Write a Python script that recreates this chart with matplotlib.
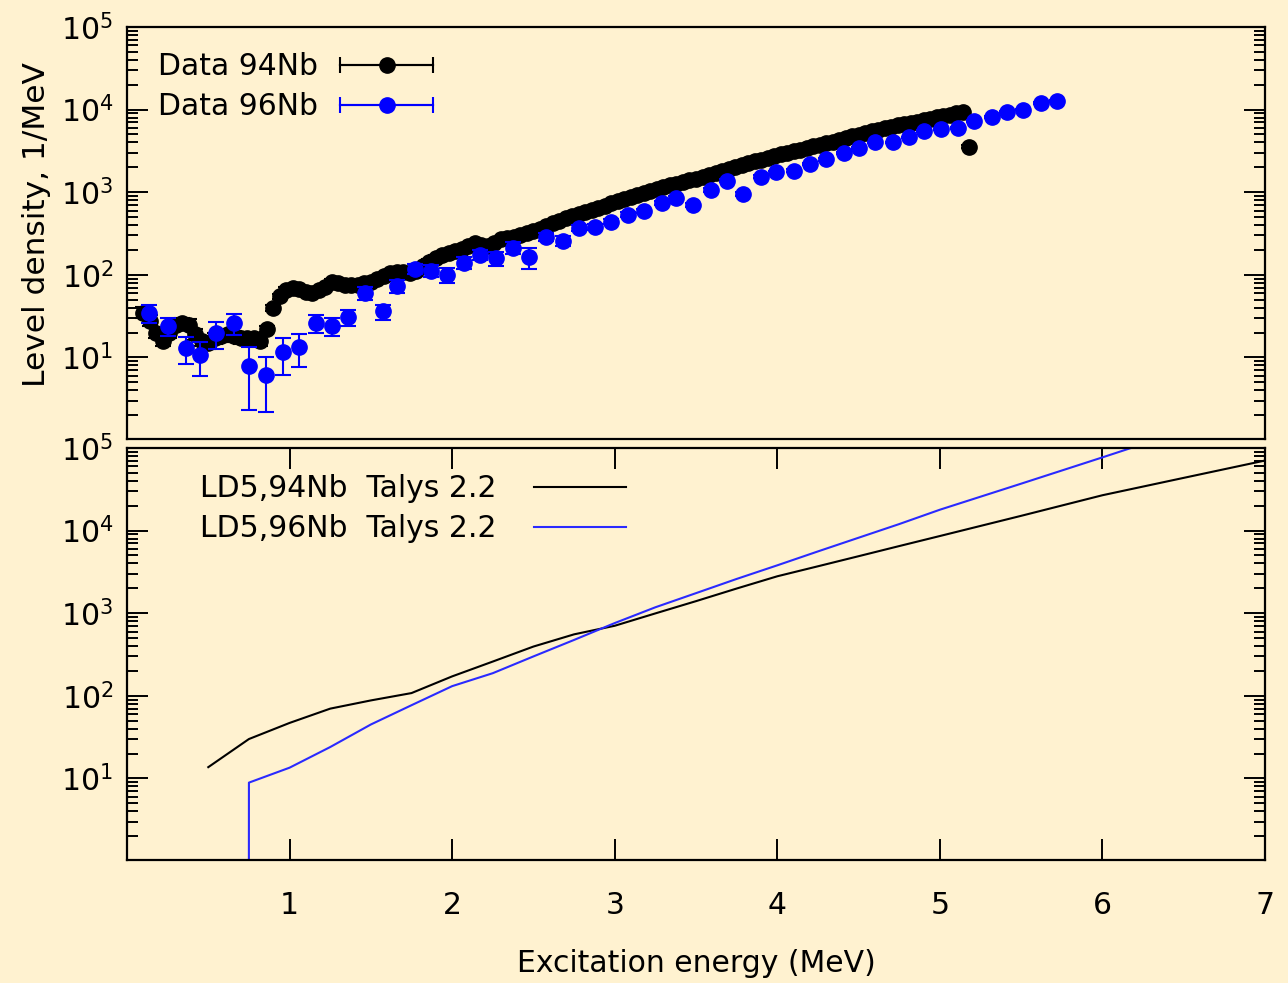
import numpy as np
import matplotlib
matplotlib.use("Agg")
import matplotlib.pyplot as plt
from matplotlib.lines import Line2D
from matplotlib.legend_handler import HandlerLine2D, HandlerTuple

# ---------------- data ----------------
# 94Nb experimental level density (MeV, 1/MeV)
e94 = [0.10, 0.14, 0.18, 0.22, 0.26, 0.30, 0.34, 0.38,
       0.42, 0.46, 0.50, 0.54, 0.58, 0.62, 0.66, 0.70,
       0.74, 0.78, 0.82, 0.86, 0.90, 0.94, 0.98, 1.02,
       1.06, 1.10, 1.14, 1.18, 1.22, 1.26, 1.30, 1.34,
       1.38, 1.42, 1.46, 1.50, 1.54, 1.58, 1.62, 1.66,
       1.70, 1.74, 1.78, 1.82, 1.86, 1.90, 1.94, 1.98,
       2.02, 2.06, 2.10, 2.14, 2.18, 2.22, 2.26, 2.30,
       2.34, 2.38, 2.42, 2.46, 2.50, 2.54, 2.58, 2.62,
       2.66, 2.70, 2.74, 2.78, 2.82, 2.86, 2.90, 2.94,
       2.98, 3.02, 3.06, 3.10, 3.14, 3.18, 3.22, 3.26,
       3.30, 3.34, 3.38, 3.42, 3.46, 3.50, 3.54, 3.58,
       3.62, 3.66, 3.70, 3.74, 3.78, 3.82, 3.86, 3.90,
       3.94, 3.98, 4.02, 4.06, 4.10, 4.14, 4.18, 4.22,
       4.26, 4.30, 4.34, 4.38, 4.42, 4.46, 4.50, 4.54,
       4.58, 4.62, 4.66, 4.70, 4.74, 4.78, 4.82, 4.86,
       4.90, 4.94, 4.98, 5.02, 5.06, 5.10, 5.14, 5.18]
rho94 = [35, 28, 20, 16, 20, 25, 26, 25,
         19, 16, 15, 17, 18, 19, 18, 17,
         17, 17, 16, 22, 40, 55, 66, 70,
         68, 62, 61, 65, 72, 82, 80, 76,
         75, 76, 79, 83, 88, 96, 104, 109,
         108, 104, 112, 128, 143, 162, 176, 185,
         192, 205, 225, 242, 230, 222, 245, 268,
         276, 285, 305, 325, 335, 360, 390, 420,
         450, 485, 515, 545, 575, 610, 645, 690,
         735, 785, 830, 875, 920, 980, 1040, 1090,
         1150, 1210, 1270, 1330, 1390, 1450, 1520, 1610,
         1710, 1820, 1920, 2020, 2130, 2250, 2380, 2480,
         2620, 2750, 2880, 3000, 3120, 3250, 3420, 3580,
         3740, 3900, 4060, 4300, 4520, 4750, 4950, 5200,
         5450, 5700, 5950, 6200, 6450, 6700, 6900, 7100,
         7400, 7750, 8100, 8400, 8700, 9000, 9300, 3560]
err94 = [5.3, 4.2, 3.0, 2.4, 3.0, 3.8, 3.9, 3.8,
         2.9, 2.4, 2.3, 2.6, 2.7, 2.9, 2.7, 2.6,
         2.6, 2.6, 2.4, 1.8, 3.2, 4.4, 5.3, 5.6,
         5.4, 5.0, 4.9, 5.2, 5.8, 6.6, 6.4, 6.1,
         6.0, 6.1, 6.3, 6.6, 7.0, 7.7, 8.3, 8.7,
         8.6, 8.3, 9.0, 10, 11, 13, 14, 15,
         12, 12, 14, 15, 14, 13, 15, 16,
         17, 17, 18, 20, 20, 22, 23, 25,
         27, 29, 31, 33, 35, 37, 39, 41,
         44, 31, 33, 35, 37, 39, 42, 44,
         46, 48, 51, 53, 56, 58, 61, 64,
         68, 73, 77, 81, 85, 90, 95, 99,
         105, 110, 115, 120, 125, 130, 137, 143,
         150, 156, 162, 172, 181, 190, 198, 208,
         218, 228, 238, 248, 258, 268, 276, 284,
         296, 310, 324, 336, 348, 360, 372, 150]

# 96Nb experimental level density
e96 = [0.135, 0.25, 0.36, 0.45, 0.55, 0.66, 0.75, 0.855,
       0.96, 1.06, 1.16, 1.26, 1.36, 1.465, 1.575, 1.66,
       1.77, 1.87, 1.97, 2.07, 2.17, 2.27, 2.375, 2.47,
       2.58, 2.68, 2.78, 2.88, 2.98, 3.08, 3.18, 3.29,
       3.38, 3.48, 3.59, 3.69, 3.79, 3.90, 3.99, 4.10,
       4.20, 4.30, 4.41, 4.50, 4.60, 4.71, 4.81, 4.90,
       5.01, 5.11, 5.21, 5.32, 5.41, 5.51, 5.62, 5.72]
rho96 = [35, 24, 12.9, 10.6, 19.5, 26, 7.8, 6.2,
         11.8, 13.4, 26, 24, 31, 61, 36, 74,
         119, 112, 100, 141, 176, 158, 214, 165,
         290, 257, 370, 380, 440, 535, 600, 745,
         850, 705, 1070, 1380, 960, 1550, 1750, 1830,
         2200, 2500, 3000, 3400, 4000, 4000, 4600, 5500,
         5850, 6050, 7300, 8200, 9300, 10000, 12000, 12800]
err96 = [8.7, 6, 4.6, 4.6, 7, 7.4, 5.5, 4.0,
         5.6, 5.8, 6.5, 6, 6.7, 11, 7.7, 13,
         18, 18, 21, 22, 26, 30, 35, 47,
         30, 35, 30, 30, 30, 35, 35, 40,
         45, 45, 50, 55, 50, 60, 65, 65,
         70, 80, 90, 100, 110, 110, 120, 140,
         150, 150, 170, 190, 210, 220, 250, 270]

# TALYS 2.2 LD model 5
e_talys = [0.50, 0.75, 1.00, 1.25, 1.50, 1.75, 2.00, 2.25, 2.50, 2.75, 3.00,
           3.25, 3.50, 3.75, 4.00, 4.25, 4.50, 4.75, 5.00, 5.50, 6.00, 6.50, 7.00]
talys94 = [13.7, 30, 47, 70, 88, 108, 172, 260, 395, 555, 705,
           995, 1400, 1990, 2800, 3700, 4900, 6500, 8600, 15100, 26800, 43500, 70500]
talys96 = [0.0, 8.9, 13.5, 24, 45, 77, 131, 188, 300, 475, 760,
           1180, 1750, 2600, 3800, 5600, 8200, 12000, 17900, 37000, 77000, 162000, 340000]

labels_data = ["Data 94Nb", "Data 96Nb"]
labels_talys = ["LD5,94Nb  Talys 2.2", "LD5,96Nb  Talys 2.2"]
xlabel = "Excitation energy (MeV)"
ylabel = "Level density, 1/MeV"

# ---------------- style ----------------
BG = "#fff2d0"
BLUE = "#0000ff"
LBLUE = "#2a2aff"
FS = 21.5
MS = 11
plt.rcParams["font.family"] = ["DejaVu Sans"]
plt.rcParams["font.size"] = FS
plt.rcParams["mathtext.default"] = "regular"

W, H = 1288, 983
fig = plt.figure(figsize=(W / 100, H / 100), dpi=100, facecolor=BG)

def frac(l, t, r, b):
    return [l / W, 1 - b / H, (r - l) / W, (b - t) / H]

ax1 = fig.add_axes(frac(127, 27, 1265, 439))
ax2 = fig.add_axes(frac(127, 448, 1265, 860))

for ax in (ax1, ax2):
    ax.set_facecolor(BG)
    ax.set_yscale("log")
    ax.set_xlim(0, 7)
    ax.set_ylim(1.03, 1e5)
    for s in ax.spines.values():
        s.set_linewidth(1.6)
        s.set_color("black")
    ax.tick_params(axis="y", which="both", left=True, right=True, direction="in",
                   labelsize=FS, pad=10, width=1.4)
    ax.tick_params(axis="y", which="major", length=15)
    ax.tick_params(axis="y", which="minor", length=8)

ax1.tick_params(axis="x", which="both", bottom=False, top=False, labelbottom=False)
ax2.set_xticks([1, 2, 3, 4, 5, 6, 7])
ax2.tick_params(axis="x", which="major", bottom=True, top=True, direction="in",
                length=15, width=1.4, labelsize=FS, pad=22)
ax2.tick_params(axis="x", which="minor", bottom=False, top=False)

# experimental data
ax1.errorbar(e94, rho94, yerr=err94, fmt="o", color="black", ms=MS,
             elinewidth=1.5, capsize=6, capthick=1.5, zorder=3)
ax1.errorbar(e96, rho96, yerr=err96, fmt="o", color=BLUE, ms=MS,
             elinewidth=1.5, capsize=6, capthick=1.5, zorder=4)

# theory curves
ax2.plot(e_talys, talys94, color="black", lw=1.5)
ax2.plot(e_talys, talys96, color=LBLUE, lw=1.5)

# legends
def eb_handle(c):
    caps = Line2D([], [], color=c, marker="|", markersize=12, mew=1.5, lw=1.5)
    main = Line2D([], [], color=c, marker="o", markersize=MS, lw=1.5)
    return caps, main

c1, m1 = eb_handle("black")
c2, m2 = eb_handle(BLUE)
hmap = {c1: HandlerLine2D(numpoints=2, marker_pad=0),
        c2: HandlerLine2D(numpoints=2, marker_pad=0),
        m1: HandlerLine2D(numpoints=1),
        m2: HandlerLine2D(numpoints=1),
        tuple: HandlerTuple(ndivide=1)}
ax1.legend([(c1, m1), (c2, m2)], labels_data, handler_map=hmap,
           loc="upper left", bbox_to_anchor=(31 / 1138, 1 - 25 / 411),
           frameon=False, markerfirst=False, borderpad=0, borderaxespad=0,
           handlelength=3.1, handletextpad=0.75, labelspacing=0.37, fontsize=FS)

lh = [Line2D([], [], color="black", lw=1.5), Line2D([], [], color=LBLUE, lw=1.5)]
ax2.legend(lh, labels_talys, loc="upper left",
           bbox_to_anchor=(73 / 1138, 1 - 26 / 412),
           frameon=False, markerfirst=False, borderpad=0, borderaxespad=0,
           handlelength=3.1, handletextpad=1.24, labelspacing=0.37, fontsize=FS)

ax1.set_ylabel(ylabel, fontsize=22.5)
ax1.yaxis.set_label_coords(-0.067, 0.52)
fig.text(696 / W, 1 - 963 / H, xlabel, ha="center", va="center", fontsize=FS)

fig.savefig("out.png", dpi=100, facecolor=BG)
